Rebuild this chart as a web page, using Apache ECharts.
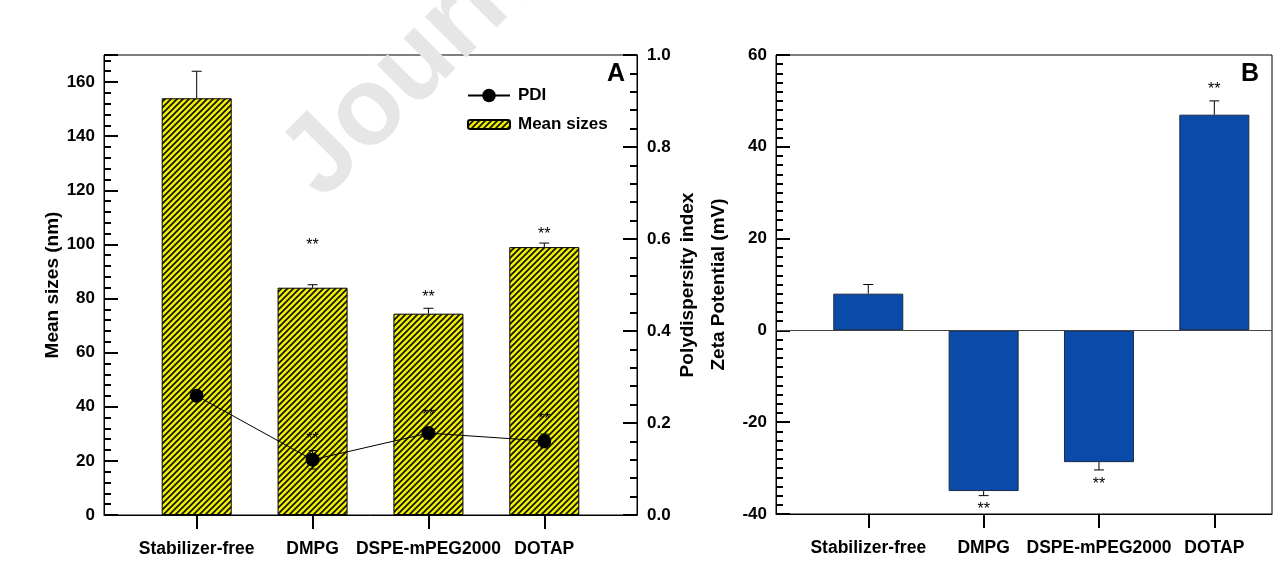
<!DOCTYPE html>
<html><head><meta charset="utf-8">
<script src="https://cdn.jsdelivr.net/npm/echarts@6/dist/echarts.min.js"></script>
<style>html,body{margin:0;padding:0;background:#fff}#c{width:1280px;height:561px}</style>
</head><body><div id="c"></div>
<script>
// ---- data ----
const categories = ['Stabilizer-free', 'DMPG', 'DSPE-mPEG2000', 'DOTAP'];
const meanSize = [154, 84, 74.4, 99];
const meanSizeErr = [10, 1.1, 2, 1.5];
const meanSizeStarsY = [null, 100.7, 81.5, 104.8];
const pdi = [0.259, 0.12, 0.178, 0.161];
const pdiErr = [0.005, 0.02, 0.006, 0.015];
const pdiStarsY = [null, 0.17, 0.222, 0.213];
const zeta = [8, -35, -28.7, 47];
const zetaErr = [2, 1, 1.7, 3];
const zetaStarsY = [null, -38.3, -32.9, 53.2];
const starText = '**';

const FONT = '"Liberation Sans", Arial, Helvetica, sans-serif';
const xPos = categories.map((c, i) => i + 1);

function makeHatch() {
  const s = 6, c = document.createElement('canvas');
  c.width = s; c.height = s;
  const g = c.getContext('2d');
  g.fillStyle = '#f0f000'; g.fillRect(0, 0, s, s);
  g.strokeStyle = '#111'; g.lineWidth = 1.7; g.beginPath();
  g.moveTo(0, s); g.lineTo(s, 0);
  g.moveTo(-1, 1); g.lineTo(1, -1);
  g.moveTo(s - 1, s + 1); g.lineTo(s + 1, s - 1);
  g.stroke();
  return { image: c, repeat: 'repeat' };
}
const hatch = makeHatch();

function pairs(vals) { return vals.map((v, i) => [xPos[i], v]); }
function triples(vals, errs) { return vals.map((v, i) => [xPos[i], v, errs[i]]); }
function starData(ys) { return ys.map((y, i) => [xPos[i], y]).filter(d => d[1] != null); }

function errRender(mode, hw) {
  return function (params, api) {
    const x = api.value(0), v = api.value(1), e = api.value(2);
    let lo, hi;
    if (mode === 'up') { lo = v; hi = v + e; }
    else if (mode === 'away') { lo = v; hi = v + (v >= 0 ? e : -e); }
    else { lo = v - e; hi = v + e; }
    const p0 = api.coord([x, lo]), p1 = api.coord([x, hi]);
    const st = { stroke: '#000', lineWidth: 1 };
    const ch = [
      { type: 'line', shape: { x1: p0[0], y1: p0[1], x2: p1[0], y2: p1[1] }, style: st },
      { type: 'line', shape: { x1: p1[0] - hw, y1: p1[1], x2: p1[0] + hw, y2: p1[1] }, style: st }
    ];
    if (mode === 'both') ch.push({ type: 'line', shape: { x1: p0[0] - hw, y1: p0[1], x2: p0[0] + hw, y2: p0[1] }, style: st });
    return { type: 'group', children: ch };
  };
}
function starRender(params, api) {
  const p = api.coord([api.value(0), api.value(1)]);
  return { type: 'text', x: p[0], y: p[1] + 3,
    style: { text: starText, fontSize: 16, fontFamily: FONT, fill: '#000', textAlign: 'center', textVerticalAlign: 'middle' } };
}

const tickStyle = { color: '#000', width: 2 };
const labelStyle = { color: '#000', fontSize: 17, fontWeight: 'bold', fontFamily: FONT };
const xLabelStyle = { color: '#000', fontSize: 17.5, fontWeight: 'bold', fontFamily: FONT };
const nameStyle = { color: '#000', fontSize: 19, fontWeight: 'bold', fontFamily: FONT };

function catXAxis(gi, max) {
  return {
    type: 'value', gridIndex: gi, min: 0.2, max: max,
    axisLine: { show: true, onZero: false, lineStyle: { color: '#000', width: 1 } },
    splitLine: { show: false },
    axisTick: { show: true, customValues: xPos, inside: false, length: 14, lineStyle: tickStyle },
    axisLabel: Object.assign({ customValues: xPos, margin: 25, formatter: v => categories[Math.round(v) - 1] || '' }, xLabelStyle)
  };
}

const chart = echarts.init(document.getElementById('c'), null, { renderer: 'canvas' });
chart.setOption({
  backgroundColor: '#fff',
  animation: false,
  grid: [
    { left: 104, top: 55, width: 533, height: 460, show: true, borderColor: '#000', borderWidth: 1, backgroundColor: 'transparent' },
    { left: 776, top: 55, width: 496, height: 459, show: true, borderColor: '#000', borderWidth: 1, backgroundColor: 'transparent' }
  ],
  xAxis: [catXAxis(0, 4.8), catXAxis(1, 4.5)],
  yAxis: [
    { type: 'value', gridIndex: 0, min: 0, max: 170, interval: 20,
      name: 'Mean sizes (nm)', nameLocation: 'middle', nameGap: 37, nameRotate: 90, nameTextStyle: nameStyle,
      axisLine: { show: true, lineStyle: { color: '#000', width: 1 } },
      axisTick: { show: true, inside: true, length: 14, lineStyle: tickStyle },
      minorTick: { show: true, splitNumber: 5, length: 7, lineStyle: tickStyle },
      splitLine: { show: false },
      axisLabel: Object.assign({ margin: 9, showMaxLabel: false }, labelStyle) },
    { type: 'value', gridIndex: 0, position: 'right', min: 0, max: 1, interval: 0.2,
      name: 'Polydispersity index', nameLocation: 'middle', nameGap: 41, nameRotate: 90, nameTextStyle: nameStyle,
      axisLine: { show: true, lineStyle: { color: '#000', width: 1 } },
      axisTick: { show: true, inside: true, length: 14, lineStyle: tickStyle },
      minorTick: { show: true, splitNumber: 5, length: 7, lineStyle: tickStyle },
      splitLine: { show: false },
      axisLabel: Object.assign({ margin: 10, formatter: v => v.toFixed(1) }, labelStyle) },
    { type: 'value', gridIndex: 1, min: -40, max: 60, interval: 20,
      name: 'Zeta Potential (mV)', nameLocation: 'middle', nameGap: 48, nameRotate: 90, nameTextStyle: nameStyle,
      axisLine: { show: true, onZero: false, lineStyle: { color: '#000', width: 1 } },
      axisTick: { show: true, inside: true, length: 14, lineStyle: tickStyle },
      minorTick: { show: true, splitNumber: 10, length: 7, lineStyle: tickStyle },
      splitLine: { show: false },
      axisLabel: Object.assign({ margin: 9 }, labelStyle) }
  ],
  legend: [
    { data: ['PDI'], left: 467, top: 87, orient: 'vertical', padding: 0, itemWidth: 42, itemHeight: 17,
      textStyle: Object.assign({ padding: [0, 0, 0, 3] }, labelStyle) },
    { data: ['Mean sizes'], left: 467, top: 116, orient: 'vertical', padding: 0, itemWidth: 42, itemHeight: 9,
      textStyle: Object.assign({ padding: [0, 0, 0, 3] }, labelStyle) }
  ],
  graphic: [
    { type: 'text', left: 607, top: 62, style: { text: 'A', fontSize: 25, fontWeight: 'bold', fontFamily: FONT, fill: '#000' }, z: 50 },
    { type: 'text', left: 1241, top: 62, style: { text: 'B', fontSize: 25, fontWeight: 'bold', fontFamily: FONT, fill: '#000' }, z: 50 },
    { type: 'text', x: 340, y: 219, rotation: Math.PI / 4, z: 100, silent: true,
      style: { text: 'Journal Pre-proof', fontSize: 110, fontWeight: 'bold', fontFamily: FONT, fill: '#e6e6e6', textVerticalAlign: 'bottom' } }
  ],
  series: [
    { name: 'Mean sizes', type: 'bar', xAxisIndex: 0, yAxisIndex: 0, barWidth: 70, data: pairs(meanSize),
      itemStyle: { color: hatch, borderColor: '#000', borderWidth: 1 }, z: 2 },
    { type: 'custom', xAxisIndex: 0, yAxisIndex: 0, renderItem: errRender('up', 5), data: triples(meanSize, meanSizeErr), z: 3, silent: true },
    { type: 'custom', xAxisIndex: 0, yAxisIndex: 0, renderItem: starRender, data: starData(meanSizeStarsY), z: 3, silent: true },
    { name: 'PDI', type: 'line', xAxisIndex: 0, yAxisIndex: 1, data: pairs(pdi), symbol: 'circle', symbolSize: 14,
      itemStyle: { color: '#000' }, lineStyle: { color: '#000', width: 1 }, z: 5 },
    { type: 'custom', xAxisIndex: 0, yAxisIndex: 1, renderItem: errRender('both', 4), data: triples(pdi, pdiErr), z: 6, silent: true },
    { type: 'custom', xAxisIndex: 0, yAxisIndex: 1, renderItem: starRender, data: starData(pdiStarsY), z: 6, silent: true },
    { name: 'Zeta', type: 'bar', xAxisIndex: 1, yAxisIndex: 2, barWidth: 70, data: pairs(zeta),
      itemStyle: { color: '#0a4aa8', borderColor: '#1e2a44', borderWidth: 1 }, z: 2,
      markLine: { silent: true, symbol: 'none', label: { show: false }, lineStyle: { color: '#444', width: 1, type: 'solid' },
        data: [{ yAxis: 0 }] } },
    { type: 'custom', xAxisIndex: 1, yAxisIndex: 2, renderItem: errRender('away', 5), data: triples(zeta, zetaErr), z: 3, silent: true },
    { type: 'custom', xAxisIndex: 1, yAxisIndex: 2, renderItem: starRender, data: starData(zetaStarsY), z: 3, silent: true }
  ]
});
</script></body></html>
